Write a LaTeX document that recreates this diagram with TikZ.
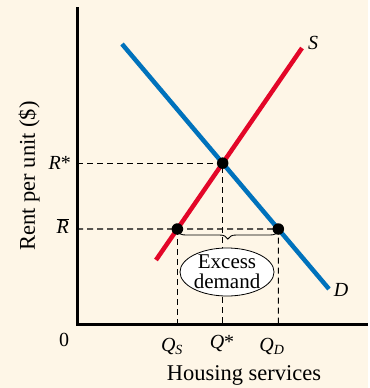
\documentclass[tikz,border=0pt]{standalone}
\usepackage{fontspec}
\setmainfont{Liberation Serif}
\usetikzlibrary{decorations.pathreplacing,shapes.geometric}
\definecolor{BgClr}{RGB}{254,246,231}
\definecolor{DemClr}{RGB}{0,114,188}
\definecolor{SupClr}{RGB}{227,6,40}

\begin{document}
\begin{tikzpicture}[x=1pt,y=-1pt,
  curve/.style={line width=4.5pt},
  guide/.style={line width=1.1pt,dash pattern=on 6pt off 4pt},
  dot/.style={circle,fill=black,inner sep=0pt,minimum size=11.5pt},
  lbl/.style={font=\fontsize{20}{22}\selectfont,inner sep=0pt},
  ttl/.style={font=\fontsize{22.5}{24}\selectfont,inner sep=0pt}]
\fill[BgClr] (0,0) rectangle (368,388);

\coordinate (D1) at (122,44);
\coordinate (D2) at (329,289);
\coordinate (S1) at (156,260);
\coordinate (S2) at (302,48);
\coordinate (O) at (77,324);
\coordinate (Ytop) at (77,7);
\coordinate (Xend) at (368,324);
\coordinate (Rb) at (77,229);
\coordinate (Rbe) at (368,229);
\coordinate (E) at (intersection of D1--D2 and S1--S2);
\coordinate (QS) at (intersection of S1--S2 and Rb--Rbe);
\coordinate (QD) at (intersection of D1--D2 and Rb--Rbe);

% guide lines
\draw[guide] (O |- E) -- (E) -- (E |- O);
\draw[guide] (Rb) -- (QD) -- (QD |- O);
\draw[guide] (QS) -- (QS |- O);

% axes
\draw[line width=3pt] (Ytop) -- (O) -- (Xend);

% demand and supply
\draw[curve,DemClr] (D1) -- (D2);
\draw[curve,SupClr] (S1) -- (S2);

% excess demand
\draw[line width=0.9pt,decorate,decoration={brace,mirror,amplitude=8pt}]
  ([yshift=-2pt]QS) -- ([yshift=-2pt]QD);
\node[ellipse,draw,line width=0.8pt,fill=white,minimum width=92pt,minimum height=48pt,
  inner sep=0pt,align=center,font=\fontsize{21}{20}\selectfont] (xs) at (227,272) {Excess\\demand};

\node[dot] (e) at (E) {};
\node[dot] (qs) at (QS) {};
\node[dot] (qd) at (QD) {};

% labels
\node[lbl] (s) at (313,43) {\textit{S}};
\node[lbl] (d) at (341,290) {\textit{D}};
\node[lbl,anchor=east] (rs) at (71,163) {\textit{R}*};
\node[lbl,anchor=east] (rb) at (69,226) {$\overline{\mbox{\textit{R}}}$};
\node[lbl] (zero) at (64,340) {0};
\node[lbl] (qsl) at (172,346) {\textit{Q}\textsubscript{\textit{S}}};
\node[lbl] (qel) at (222,343) {\textit{Q}*};
\node[lbl] (qdl) at (272,346) {\textit{Q}\textsubscript{\textit{D}}};
\node[ttl] (xt) at (244,375) {Housing services};
\node[ttl,rotate=90] (yt) at (29,176) {Rent per unit (\$)};
\end{tikzpicture}
\end{document}
